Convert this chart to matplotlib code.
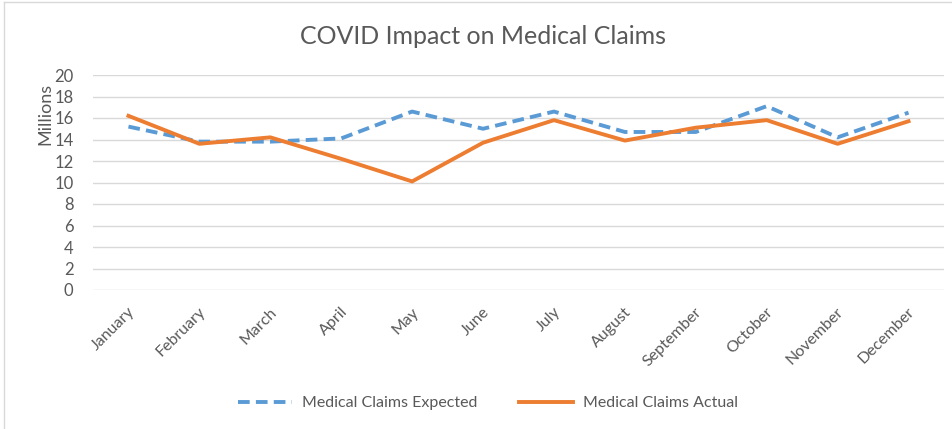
import matplotlib
matplotlib.use("Agg")
import matplotlib.pyplot as plt
from matplotlib.lines import Line2D
import matplotlib.transforms as mtransforms

months = ["January", "February", "March", "April", "May", "June", "July",
          "August", "September", "October", "November", "December"]
expected = [15.2, 13.8, 13.8, 14.1, 16.6, 15.0, 16.6, 14.7, 14.7, 17.1, 14.2, 16.5]
actual = [16.2, 13.6, 14.2, 12.2, 10.1, 13.7, 15.8, 13.9, 15.1, 15.8, 13.6, 15.7]
yticks = list(range(0, 21, 2))

plt.rcParams['font.family'] = ['Lato', 'DejaVu Sans']
W, H = 952, 429
fig = plt.figure(figsize=(W / 100, H / 100), dpi=100)
ax = fig.add_axes([93 / W, (H - 290) / H, (944 - 93) / W, (290 - 75) / H])

blue = "#5B9BD5"
orange = "#ED7D31"
gray = "#595959"

x = list(range(len(months)))
ax.plot(x, expected, color=blue, lw=2.8, dashes=(3, 1.6), label="Medical Claims Expected",
        dash_capstyle='butt')
ax.plot(x, actual, color=orange, lw=2.8, label="Medical Claims Actual")

ax.set_xlim(-0.5, len(months) - 0.5)
ax.set_ylim(0, 20)
ax.set_yticks(yticks)
ax.set_yticklabels([str(v) for v in yticks])
ax.grid(axis='y', color="#D9D9D9", lw=1)
ax.set_axisbelow(True)
for s in ax.spines.values():
    s.set_visible(False)
ax.tick_params(axis='y', length=0, pad=14, labelsize=12, labelcolor=gray)
ax.tick_params(axis='x', length=0, pad=2, labelsize=11.5, labelcolor=gray)
ax.set_xticks(x)
ax.set_xticklabels(months, rotation=45, ha='right', rotation_mode='anchor')
offset = mtransforms.ScaledTranslation(-1 / 100, -12 / 100, fig.dpi_scale_trans)
for lbl in ax.get_xticklabels():
    lbl.set_transform(lbl.get_transform() + offset)

fig.text(483 / W, 1 - 36 / H, "COVID Impact on Medical Claims", ha='center', va='center',
         fontsize=18, color=gray)
fig.text(45 / W, 1 - 114 / H, "Millions", rotation=90, ha='center', va='center',
         fontsize=13, color=gray)

handles = [Line2D([], [], color=blue, lw=2.8, dashes=(3, 1.6)),
           Line2D([], [], color=orange, lw=2.8)]
leg = fig.legend(handles, ["Medical Claims Expected", "Medical Claims Actual"],
                 loc='center', bbox_to_anchor=(488 / W, 1 - 403 / H), ncol=2, frameon=False,
                 fontsize=11.5, handlelength=3.4, columnspacing=2.6, handletextpad=0.6,
                 labelcolor=gray)

# outer chart border (top and left visible)
fig.add_artist(Line2D([4 / W, 4 / W], [0, 1 - 2 / H], transform=fig.transFigure, color="#D9D9D9", lw=1))
fig.add_artist(Line2D([4 / W, 1], [1 - 2 / H, 1 - 2 / H], transform=fig.transFigure, color="#D9D9D9", lw=1))

fig.savefig("out.png", dpi=100, facecolor="white")
